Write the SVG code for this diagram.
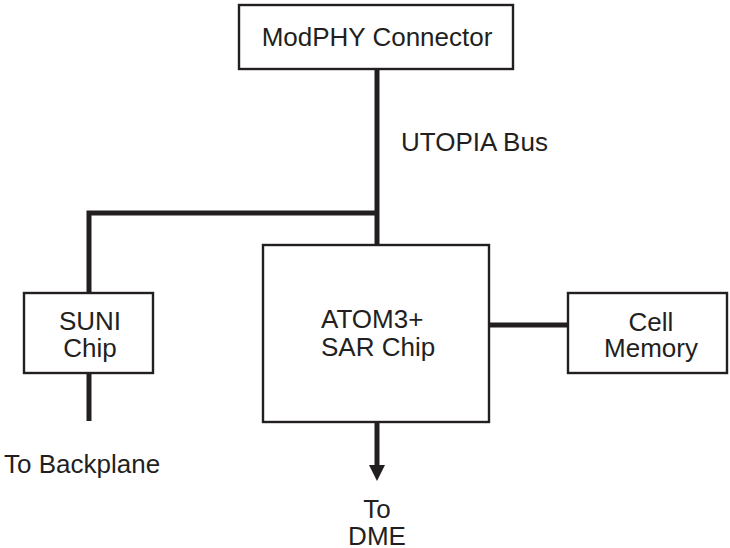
<svg xmlns="http://www.w3.org/2000/svg" width="730" height="548" viewBox="0 0 730 548">
<defs>
<style>
.box{fill:#fff;stroke:#231f20;stroke-width:2.4}
.t{font-family:"Liberation Sans",Arial,sans-serif;font-size:26px;fill:#231f20;text-anchor:middle}
.l{text-anchor:start}
.w{stroke:#231f20;fill:none;stroke-width:5}
</style>
</defs>
<rect width="730" height="548" fill="#fff"/>
<g id="connectors">
<line class="w" x1="377" y1="69" x2="377" y2="245" stroke-width="10"/>
<polyline class="w" points="377,213 89,213 89,293"/>
<line class="w" x1="89" y1="373" x2="89" y2="421"/>
<line class="w" x1="489" y1="325" x2="568" y2="325"/>
<line class="w" x1="377" y1="422" x2="377" y2="466"/>
<path d="M369,465 L385,465 L377,481 Z" fill="#231f20"/>
</g>
<g id="modphy">
<rect class="box" x="239" y="5" width="274" height="64"/>
<text class="t" x="377" y="46">ModPHY Connector</text>
</g>
<g id="utopia-label">
<text class="t l" x="401" y="151">UTOPIA Bus</text>
</g>
<g id="suni">
<rect class="box" x="24" y="293" width="129" height="80"/>
<text class="t" x="90" y="330">SUNI</text>
<text class="t" x="90" y="357">Chip</text>
</g>
<g id="backplane">
<text class="t l" x="4" y="473">To Backplane</text>
</g>
<g id="atom">
<rect class="box" x="263" y="245" width="226" height="177"/>
<text class="t l" x="321" y="328">ATOM3+</text>
<text class="t l" x="321" y="356">SAR Chip</text>
</g>
<g id="cell">
<rect class="box" x="568" y="293" width="159" height="80"/>
<text class="t" x="651" y="331">Cell</text>
<text class="t" x="651" y="357">Memory</text>
</g>
<g id="dme">
<text class="t" x="377" y="518">To</text>
<text class="t" x="377" y="545">DME</text>
</g>
</svg>
